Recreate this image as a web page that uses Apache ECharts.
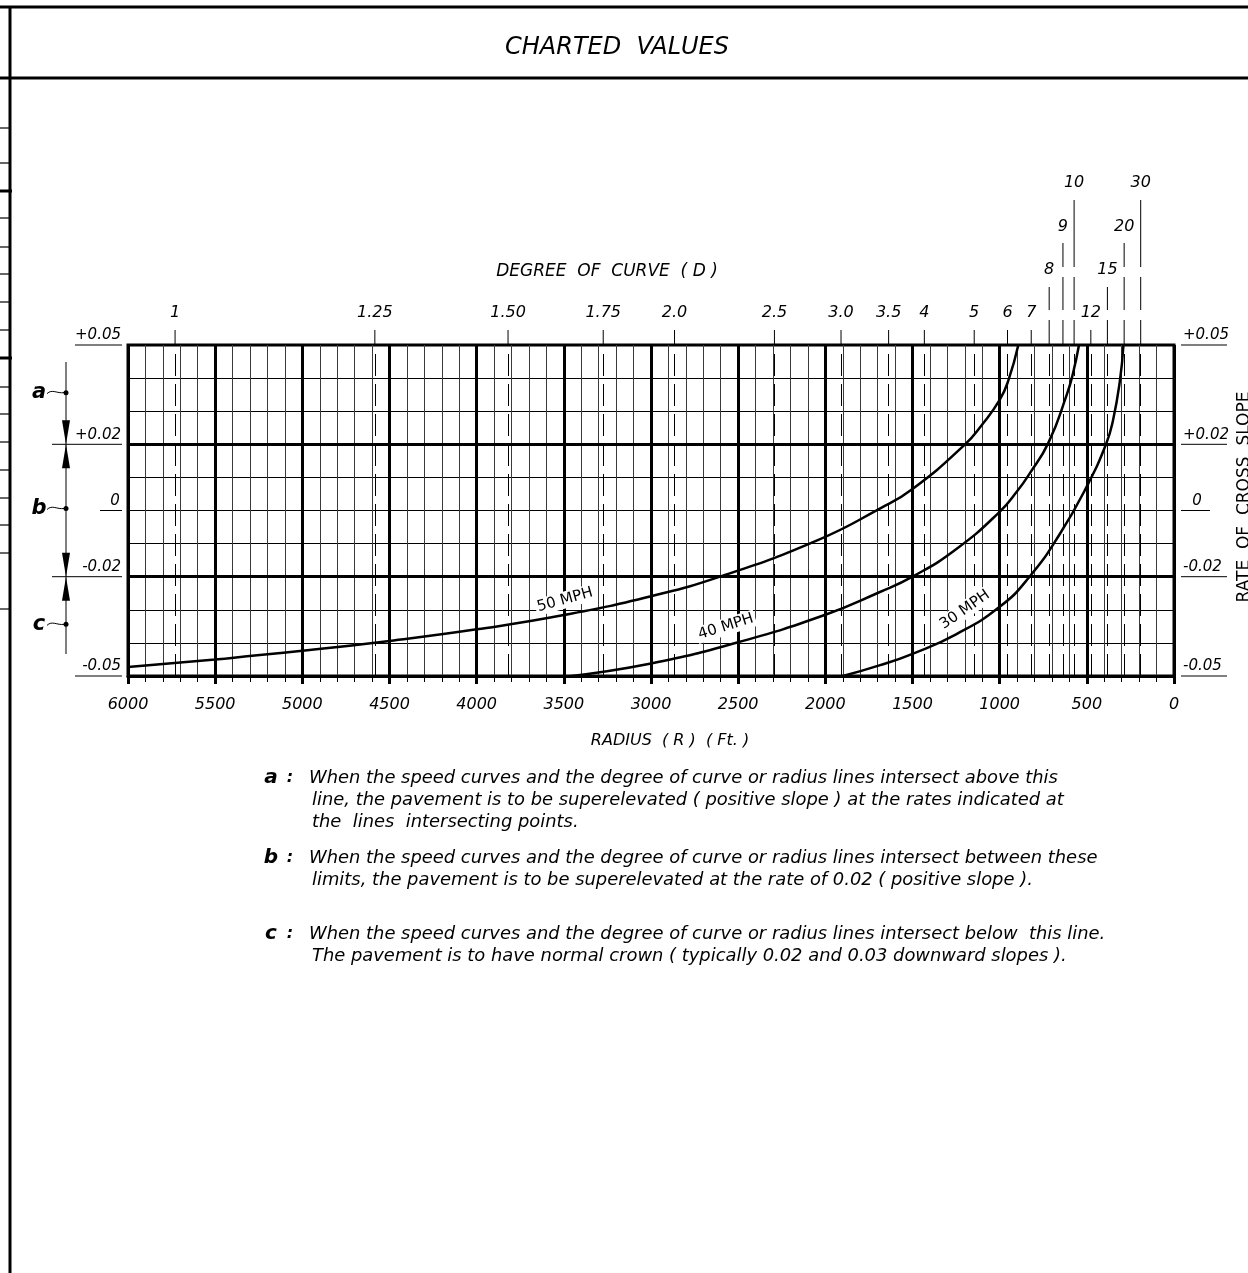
<!DOCTYPE html>
<html>
<head>
<meta charset="utf-8">
<title>Charted Values</title>
<script src="https://cdn.jsdelivr.net/npm/echarts@6/dist/echarts.min.js"></script>
<style>
  html, body { margin: 0; padding: 0; background: #ffffff; }
  #chart { width: 1248px; height: 1273px; }
</style>
</head>
<body>
<div id="chart"></div>
<script>
// ---- Cross-slope axis labels ----
const slopeLabelValues = [0.05, 0.02, 0, -0.02, -0.05];
const slopeLabelText = ['+0.05', '+0.02', '0', '-0.02', '-0.05'];
const slopeBoundaries = [0.02, -0.02];

// ---- Degree of curve (D) reference lines, with the radius each one sits at ----
const degreeLabels = ['1', '1.25', '1.50', '1.75', '2.0', '2.5', '3.0', '3.5', '4', '5', '6', '7', '8', '9', '10', '12', '15', '20', '30'];
const degreeRadius = [5730, 4584, 3820, 3274, 2865, 2292, 1910, 1637, 1432, 1146, 955, 819, 716, 637, 573, 477, 382, 286, 191];
const degreeRow = [0, 0, 0, 0, 0, 0, 0, 0, 0, 0, 0, 0, 1, 2, 3, 0, 1, 2, 3];

// ---- Speed curves: radius (ft) vs. rate of cross slope ----
const radius50 = [6000, 5500, 5000, 4500, 4000, 3500, 3000, 2600, 2050, 1690, 1500, 1200, 1100, 1000, 950, 893];
const slope50 = [-0.0473, -0.0450, -0.0424, -0.0394, -0.0359, -0.0316, -0.0259, -0.0199, -0.0091, 0.0005, 0.0065, 0.0199, 0.0260, 0.0334, 0.0393, 0.0500];

const radius40 = [3490, 3000, 2500, 2000, 1690, 1500, 1250, 1000, 900, 830, 720, 615, 580, 545];
const slope40 = [-0.0502, -0.0462, -0.0398, -0.0315, -0.0247, -0.0200, -0.0117, -0.0004, 0.0058, 0.0110, 0.0205, 0.0350, 0.0413, 0.0500];

const radius30 = [1905, 1690, 1500, 1250, 1000, 830, 655, 500, 390, 350, 310, 290];
const slope30 = [-0.0501, -0.0468, -0.0433, -0.0374, -0.0291, -0.0201, -0.0071, 0.0073, 0.0200, 0.0272, 0.0393, 0.0500];

const speedNames = ['50 MPH', '40 MPH', '30 MPH'];

// ---- Notes ----
const noteA = [
  'When the speed curves and the degree of curve or radius lines intersect above this',
  'line, the pavement is to be superelevated ( positive slope ) at the rates indicated at',
  'the  lines  intersecting points.'
];
const noteB = [
  'When the speed curves and the degree of curve or radius lines intersect between these',
  'limits, the pavement is to be superelevated at the rate of 0.02 ( positive slope ).'
];
const noteC = [
  'When the speed curves and the degree of curve or radius lines intersect below  this line.',
  'The pavement is to have normal crown ( typically 0.02 and 0.03 downward slopes ).'
];

// ------------------------------------------------------------------
const INK = '#000000';
const FAMILY = '"DejaVu Sans", "Noto Sans", sans-serif';
const font = (size, opts) => {
  opts = opts || {};
  return (opts.upright ? 'normal' : 'italic') + ' ' + (opts.bold ? 'bold' : 'normal') + ' ' + size + 'px ' + FAMILY;
};

const chart = echarts.init(document.getElementById('chart'), null, { renderer: 'canvas' });

function curveSeries(name, rs, ss) {
  return {
    name: name,
    type: 'line',
    data: rs.map((r, i) => [r, ss[i]]),
    symbol: 'none',
    showSymbol: false,
    smooth: 0.5,
    clip: true,
    silent: true,
    z: 10,
    lineStyle: { color: INK, width: 2.5 }
  };
}

const guideLines = degreeRadius.map(r => ({
  xAxis: r,
  lineStyle: { color: INK, width: 1, type: [22, 8] }
})).concat(slopeBoundaries.map(v => ({
  yAxis: v,
  lineStyle: { color: INK, width: 3, type: 'solid' }
})));

chart.setOption({
  animation: false,
  grid: {
    left: 128, top: 345, width: 1046, height: 331,
    show: true, borderColor: INK, borderWidth: 3, backgroundColor: 'transparent'
  },
  xAxis: {
    type: 'value',
    min: 0, max: 6000, interval: 500,
    inverse: true,
    axisLine: { show: true, onZero: false, lineStyle: { color: INK, width: 3 } },
    axisTick: { show: true, length: 8, lineStyle: { color: INK, width: 3 } },
    minorTick: { show: true, splitNumber: 5, length: 6, lineStyle: { color: INK, width: 1 } },
    splitLine: { show: true, lineStyle: { color: INK, width: 3 } },
    minorSplitLine: { show: true, lineStyle: { color: '#3a3a3a', width: 1 } },
    axisLabel: {
      margin: 21, color: INK, fontFamily: FAMILY, fontStyle: 'italic', fontSize: 16,
      formatter: v => String(v)
    }
  },
  yAxis: {
    type: 'value',
    min: -0.05, max: 0.05, interval: 0.01,
    axisLine: { show: false },
    axisTick: { show: false },
    axisLabel: { show: false },
    splitLine: { show: true, lineStyle: { color: INK, width: 1 } }
  },
  series: [
    {
      type: 'line', data: [], silent: true, z: 3,
      markLine: { silent: true, animation: false, symbol: ['none', 'none'], label: { show: false }, data: guideLines }
    },
    curveSeries(speedNames[0], radius50, slope50),
    curveSeries(speedNames[1], radius40, slope40),
    curveSeries(speedNames[2], radius30, slope30)
  ]
});

// ---- Annotations placed through the chart's own scales ----
const toPx = (r, s) => chart.convertToPixel({ gridIndex: 0 }, [r, s]);
const xOf = r => chart.convertToPixel({ xAxisIndex: 0 }, r);
const yOf = s => chart.convertToPixel({ yAxisIndex: 0 }, s);

const g = [];
const line = (x1, y1, x2, y2, w) => g.push({
  type: 'line', silent: true, z: 20,
  shape: { x1: x1, y1: y1, x2: x2, y2: y2 },
  style: { stroke: INK, lineWidth: w || 1 }
});
const text = (str, x, y, f, align, vAlign, extra) => {
  const el = {
    type: 'text', silent: true, z: 30, x: x, y: y,
    style: Object.assign({
      text: str, font: f, fill: INK,
      align: align || 'left', textAlign: align || 'left',
      verticalAlign: vAlign || 'middle', textVerticalAlign: vAlign || 'middle'
    }, (extra && extra.style) || {})
  };
  if (extra && extra.rotation) el.rotation = extra.rotation;
  g.push(el);
};

// Sheet frame
line(0, 7, 1248, 7, 3);
line(0, 78, 1248, 78, 3);
line(10, 7, 10, 1273, 3);
[128, 163, 218, 247, 274, 302, 330, 387, 414, 442, 470, 498, 525, 553, 609].forEach(y => line(0, y, 10, y, 1.2));
[191, 358].forEach(y => line(0, y, 12, y, 3));

text('CHARTED  VALUES', 617, 48, font(24), 'center', 'middle');

// Slope labels on both sides, underlined
slopeLabelValues.forEach((v, i) => {
  const y = yOf(v);
  const isZero = v === 0;
  const isBoundary = slopeBoundaries.indexOf(v) >= 0;
  const leftStart = isZero ? 100 : (isBoundary ? 52 : 75);
  line(leftStart, y, 122, y, 1);
  text(slopeLabelText[i], isZero ? 115 : 121, y - 2, font(15), isZero ? 'center' : 'right', 'bottom');
  line(1181, y, isZero ? 1210 : 1227, y, 1);
  text(slopeLabelText[i], isZero ? 1197 : 1183, y - 2, font(15), isZero ? 'center' : 'left', 'bottom');
});

text('RATE  OF  CROSS  SLOPE', 1245, 497, font(17, { upright: true }), 'center', 'middle', { rotation: Math.PI / 2 });

// a / b / c bracket on the left
const bracketX = 66;
line(bracketX, yOf(0.05) + 17, bracketX, yOf(-0.05) - 22, 1);
const arrow = (tipY, dir) => g.push({
  type: 'polygon', silent: true, z: 20,
  shape: { points: [[bracketX - 4, tipY - dir * 24], [bracketX + 4, tipY - dir * 24], [bracketX, tipY]] },
  style: { fill: INK }
});
slopeBoundaries.forEach(v => { const y = yOf(v); arrow(y, 1); arrow(y, -1); });
[['a', 0.035], ['b', 0], ['c', -0.035]].forEach(([ch, v]) => {
  const y = yOf(v) - 2;
  g.push({ type: 'circle', silent: true, z: 20, shape: { cx: bracketX, cy: y, r: 2.5 }, style: { fill: INK } });
  g.push({
    type: 'bezierCurve', silent: true, z: 20,
    shape: { x1: 47, y1: y + 1, cpx1: 52, cpy1: y - 4, cpx2: 57, cpy2: y + 1, x2: bracketX - 2, y2: y },
    style: { stroke: INK, lineWidth: 1, fill: null }
  });
  text(ch, 39, y, font(21, { bold: true }), 'center', 'middle');
});

// Degree-of-curve scale above the plot
const rowLabelY = [313, 270, 227, 183];
const rowLineTop = [330, 287, 243, 200];
const gaps = [[267, 277], [310, 320]];
const plotTop = yOf(0.05);
degreeRadius.forEach((r, i) => {
  const x = xOf(r);
  const row = degreeRow[i];
  let y0 = rowLineTop[row];
  gaps.forEach(([a, b]) => {
    if (a > y0) { line(x, y0, x, a, 1); y0 = b; }
  });
  line(x, y0, x, plotTop, 1);
  text(degreeLabels[i], x, rowLabelY[row], font(16), 'center', 'middle');
});
text('DEGREE  OF  CURVE  ( D )', 607, 272, font(17), 'center', 'middle');

// Axis title under the radius scale
text('RADIUS  ( R )  ( Ft. )', 670, 741, font(16), 'center', 'middle');

// Speed labels sitting on their curves
const speedLabelAt = [[3493, -0.0270, 15.6], [2570, -0.0351, 17.4], [1199, -0.0300, 35]];
speedNames.forEach((name, i) => {
  const p = toPx(speedLabelAt[i][0], speedLabelAt[i][1]);
  text(name, p[0], p[1], font(15, { upright: true }), 'center', 'middle', {
    rotation: speedLabelAt[i][2] * Math.PI / 180,
    style: { backgroundColor: '#ffffff', padding: [1, 2] }
  });
});

// Notes
const notes = [['a', noteA, 778], ['b', noteB, 858], ['c', noteC, 934]];
notes.forEach(([ch, lines, y0]) => {
  text(ch, 271, y0, font(20, { bold: true }), 'center', 'middle');
  text(':', 290, y0, font(16, { bold: true }), 'center', 'middle');
  lines.forEach((s, k) => text(s, k === 0 ? 309 : 312, y0 + k * 22, font(17.9), 'left', 'middle'));
});

chart.setOption({ graphic: { elements: g } });
</script>
</body>
</html>
